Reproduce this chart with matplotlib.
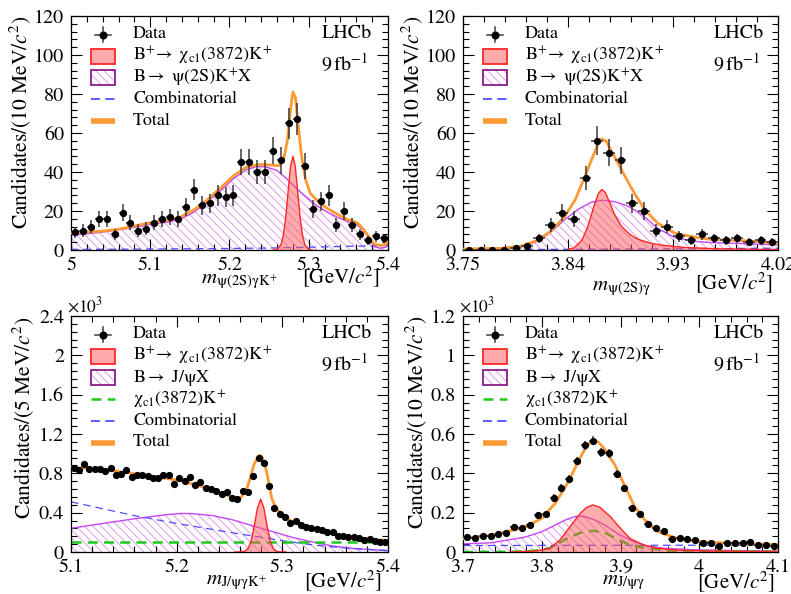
import numpy as np
import matplotlib.pyplot as plt
from matplotlib.patches import Rectangle
from matplotlib.ticker import FixedLocator, FuncFormatter

plt.rcParams.update({'font.family': 'STIXGeneral', 'mathtext.fontset': 'stix',
                     'hatch.linewidth': 0.7, 'axes.linewidth': 0.9})

# ---------------- data ----------------
# top left: m(psi(2S) gamma K+), 10 MeV bins 5.0 - 5.4
data1 = [9, 10, 12, 16, 16, 8, 19, 14, 10, 11, 14, 16, 17, 16, 22, 31, 23, 24, 28, 27,
         28, 45, 45, 40, 40, 51, 46, 65, 67, 43, 21, 25, 28, 13, 20, 13, 8, 5, 7, 6]
tot1_x = [5.000, 5.037, 5.058, 5.079, 5.100, 5.121, 5.138, 5.155, 5.171, 5.188, 5.205, 5.222,
          5.239, 5.251, 5.262, 5.268, 5.273, 5.277, 5.280, 5.283, 5.287, 5.291, 5.296, 5.302,
          5.315, 5.331, 5.348, 5.361, 5.369, 5.376, 5.382, 5.390, 5.397, 5.400]
tot1_y = [8.8, 9.6, 10.5, 12.2, 14.0, 15.2, 16.9, 20.6, 25.4, 31.6, 38.0, 42.7,
          43.9, 43.6, 43.2, 46.0, 56.0, 72.0, 81.0, 78.6, 63.0, 48.0, 36.0, 29.0,
          23.5, 19.5, 15.8, 14.0, 10.6, 6.8, 3.2, 2.3, 2.8, 5.5]
purp1_x = [5.000, 5.037, 5.079, 5.100, 5.121, 5.138, 5.155, 5.171, 5.188, 5.205, 5.222, 5.235,
           5.247, 5.260, 5.272, 5.285, 5.298, 5.310, 5.323, 5.335, 5.348, 5.360, 5.369, 5.376,
           5.382, 5.390, 5.397, 5.400]
purp1_y = [7.6, 9.0, 11.5, 13.2, 14.3, 15.8, 19.4, 24.4, 30.2, 36.6, 41.4, 42.9,
           42.5, 40.8, 36.6, 31.4, 26.8, 22.8, 19.5, 17.0, 14.8, 13.2, 10.2, 6.4,
           1.8, 0.9, 1.4, 3.4]
red1_x = [5.255, 5.260, 5.265, 5.268, 5.271, 5.274, 5.277, 5.280, 5.283, 5.286, 5.289,
          5.292, 5.295, 5.300, 5.305]
red1_y = [0.0, 0.3, 2.8, 7.8, 17.0, 30.0, 43.0, 48.0, 43.0, 30.0, 17.0, 7.8, 2.8, 0.3, 0.0]
comb1_x = [5.00, 5.10, 5.20, 5.25, 5.30, 5.35, 5.40]
comb1_y = [0.3, 0.5, 0.8, 1.0, 1.4, 1.9, 2.3]

# top right: m(psi(2S) gamma), 10 MeV bins 3.75 - 4.02
data2 = [0, 0, 0, 0, 1, 2, 6, 13, 19, 16, 37, 56, 50, 46, 24, 20, 10, 12, 7, 5,
         8, 6, 5, 6, 4, 5, 4]
tot2_x = [3.750, 3.783, 3.800, 3.814, 3.826, 3.837, 3.846, 3.854, 3.860, 3.866, 3.869, 3.873,
          3.877, 3.883, 3.889, 3.897, 3.906, 3.917, 3.932, 3.950, 3.960, 3.975, 3.990,
          4.004, 4.020]
tot2_y = [0.5, 0.9, 2.0, 5.0, 10.0, 17.0, 25.6, 36.8, 46.0, 54.7, 57.0, 55.6,
          51.0, 44.4, 37.6, 29.0, 20.5, 13.7, 8.5, 6.5, 5.6, 5.1, 4.8, 4.3, 3.4]
purp2_x = [3.750, 3.780, 3.790, 3.803, 3.814, 3.826, 3.837, 3.849, 3.860, 3.869, 3.880,
           3.891, 3.902, 3.917, 3.932, 3.950, 3.963, 3.990, 4.020]
purp2_y = [0.0, 0.2, 0.8, 2.0, 4.5, 9.5, 15.5, 21.0, 24.5, 25.5, 24.8,
           22.6, 18.8, 11.0, 6.3, 4.4, 3.8, 3.3, 2.6]
red2_x = [3.840, 3.845, 3.852, 3.857, 3.862, 3.866, 3.869, 3.872, 3.876, 3.880, 3.886,
          3.893, 3.900, 3.910, 3.920, 3.940, 3.970, 4.020]
red2_y = [0.3, 1.0, 5.0, 12.0, 22.0, 29.0, 31.0, 29.5, 24.0, 18.0, 12.0,
          8.0, 5.5, 3.6, 2.5, 1.3, 0.6, 0.2]
comb2_x = [3.75, 3.85, 3.95, 4.02]
comb2_y = [0.1, 0.4, 0.7, 0.9]

# bottom left: m(J/psi gamma K+), 5 MeV bins 5.1 - 5.4, in units of 10^3
data3 = [0.858, 0.834, 0.895, 0.840, 0.844, 0.844, 0.827, 0.858, 0.786, 0.797,
         0.834, 0.766, 0.786, 0.786, 0.776, 0.753, 0.753, 0.783, 0.783, 0.695,
         0.756, 0.722, 0.759, 0.678, 0.715, 0.654, 0.641, 0.624, 0.586, 0.614,
         0.549, 0.542, 0.624, 0.614, 0.773, 0.959, 0.908, 0.675, 0.444, 0.386,
         0.359, 0.292, 0.319, 0.275, 0.251, 0.241, 0.231, 0.220, 0.207, 0.200,
         0.159, 0.163, 0.149, 0.153, 0.139, 0.122, 0.129, 0.115, 0.105, 0.105]
tot3_x = [5.100, 5.127, 5.158, 5.190, 5.205, 5.221, 5.237, 5.250, 5.256, 5.261, 5.266,
          5.270, 5.273, 5.277, 5.279, 5.281, 5.284, 5.287, 5.290, 5.294, 5.300, 5.309,
          5.322, 5.338, 5.353, 5.369, 5.385, 5.400]
tot3_y = [0.861, 0.844, 0.800, 0.749, 0.722, 0.675, 0.624, 0.569, 0.546, 0.556, 0.630,
          0.766, 0.885, 0.969, 0.983, 0.963, 0.868, 0.715, 0.546, 0.444, 0.376, 0.308,
          0.258, 0.217, 0.173, 0.149, 0.129, 0.115]
purp3_x = [5.100, 5.127, 5.158, 5.190, 5.205, 5.215, 5.234, 5.253, 5.272, 5.291, 5.309,
           5.328, 5.347, 5.369, 5.400]
purp3_y = [0.241, 0.285, 0.335, 0.380, 0.392, 0.390, 0.370, 0.327, 0.266, 0.207, 0.150,
           0.102, 0.062, 0.034, 0.014]
red3_x = [5.2555, 5.2615, 5.2645, 5.2675, 5.2705, 5.2735, 5.2765, 5.2795, 5.2825, 5.2855,
          5.2885, 5.2915, 5.2945, 5.2975, 5.3035]
red3_y = [0.0, 0.002, 0.007, 0.034, 0.113, 0.27, 0.45, 0.536, 0.45, 0.27,
          0.113, 0.034, 0.007, 0.002, 0.0]
comb3_x = [5.10, 5.13, 5.16, 5.20, 5.25, 5.30, 5.33, 5.36, 5.40]
comb3_y = [0.51, 0.44, 0.37, 0.29, 0.20, 0.115, 0.07, 0.04, 0.015]
nonres3_x = [5.10, 5.40]
nonres3_y = [0.10, 0.10]

# bottom right: m(J/psi gamma), 10 MeV bins 3.7 - 4.1, in units of 10^3
data4 = [0.078, 0.069, 0.081, 0.083, 0.093, 0.095, 0.129, 0.120, 0.136, 0.190,
         0.193, 0.276, 0.327, 0.373, 0.464, 0.542, 0.566, 0.507, 0.502, 0.398,
         0.324, 0.222, 0.192, 0.142, 0.120, 0.108, 0.068, 0.069, 0.064, 0.061,
         0.047, 0.047, 0.031, 0.047, 0.047, 0.044, 0.053, 0.036, 0.036, 0.031]
tot4_x = [3.700, 3.736, 3.778, 3.800, 3.817, 3.834, 3.846, 3.857, 3.865, 3.872, 3.880,
          3.893, 3.906, 3.918, 3.931, 3.948, 3.969, 3.990, 4.011, 4.032, 4.053, 4.074, 4.100]
tot4_y = [0.068, 0.086, 0.125, 0.171, 0.247, 0.358, 0.459, 0.539, 0.569, 0.559, 0.522,
          0.442, 0.332, 0.230, 0.163, 0.103, 0.073, 0.058, 0.050, 0.046, 0.042, 0.040, 0.037]
purp4_x = [3.700, 3.736, 3.778, 3.800, 3.817, 3.830, 3.842, 3.848, 3.855, 3.867, 3.880,
           3.896, 3.912, 3.933, 3.955, 3.990, 4.032, 4.100]
purp4_y = [0.041, 0.047, 0.075, 0.103, 0.137, 0.163, 0.180, 0.183, 0.180, 0.163, 0.137,
           0.095, 0.061, 0.032, 0.019, 0.012, 0.008, 0.005]
red4_x = [3.760, 3.793, 3.810, 3.823, 3.836, 3.849, 3.857, 3.865, 3.874, 3.887, 3.900,
          3.912, 3.929, 3.946, 3.972, 4.010, 4.100]
red4_y = [0.0, 0.005, 0.019, 0.061, 0.129, 0.197, 0.227, 0.239, 0.227, 0.180, 0.120,
          0.069, 0.036, 0.019, 0.010, 0.005, 0.002]
nonres4_x = [3.700, 3.760, 3.790, 3.810, 3.830, 3.849, 3.865, 3.880, 3.896, 3.912, 3.933,
             3.963, 4.000, 4.100]
nonres4_y = [0.0, 0.001, 0.006, 0.019, 0.064, 0.098, 0.108, 0.098, 0.064, 0.036, 0.019,
             0.007, 0.004, 0.002]
comb4_x = [3.70, 3.90, 4.10]
comb4_y = [0.033, 0.034, 0.035]

# ---------------- style ----------------
C_ORANGE = '#ff9933'
C_RED = '#ff2626'
C_REDFILL = '#ff5a5a'
C_PURP = '#c845f2'
C_HATCH = '#dd9eee'
C_PURPBOX = '#8a1c8a'
C_BLUE = '#4d4dff'
C_GREEN = '#1ec81e'

fig = plt.figure(figsize=(7.91, 5.94), dpi=100)
ax1 = fig.add_axes([71/791, 1-250/594, 317/791, 234/594])
ax2 = fig.add_axes([463/791, 1-250/594, 315/791, 234/594])
ax3 = fig.add_axes([71/791, 1-552/594, 317/791, 236/594])
ax4 = fig.add_axes([463/791, 1-552/594, 315/791, 236/594])

fmt = FuncFormatter(lambda v, p: '%g' % round(v, 6))


def frame(ax, xlim, ylim, xmaj, xmin, ymaj, ymin):
    ax.set_xlim(xlim)
    ax.set_ylim(ylim)
    ax.xaxis.set_major_locator(FixedLocator(xmaj))
    ax.xaxis.set_minor_locator(FixedLocator(xmin))
    ax.yaxis.set_major_locator(FixedLocator(ymaj))
    ax.yaxis.set_minor_locator(FixedLocator(ymin))
    ax.xaxis.set_major_formatter(fmt)
    ax.yaxis.set_major_formatter(fmt)
    ax.tick_params(which='both', direction='in', top=True, right=True, labelsize=14.5,
                   width=0.8, pad=5)
    ax.tick_params(which='major', length=8)
    ax.tick_params(which='minor', length=4)


def draw_data(ax, lo, hi, y, scale=1.0):
    y = np.array(y)
    n = len(y)
    w = (hi - lo) / n
    x = lo + (np.arange(n) + 0.5) * w
    err = np.sqrt(y * scale) / scale
    ax.errorbar(x, y, xerr=w / 2, yerr=err, fmt='o', ms=4.2, color='black',
                ecolor='#3c3c3c', elinewidth=1.1, capsize=0, zorder=6)


def draw_model(ax, purp, red, tot, comb, nonres=None):
    ax.fill_between(purp[0], purp[1], 0, facecolor='none', edgecolor=C_HATCH,
                    hatch='\\\\\\\\', linewidth=0, zorder=1)
    ax.plot(purp[0], purp[1], color=C_PURP, lw=1.0, zorder=2)
    ax.plot(comb[0], comb[1], color=C_BLUE, lw=0.9, ls=(0, (6, 4)), zorder=2)
    if nonres is not None:
        ax.plot(nonres[0], nonres[1], color=C_GREEN, lw=1.8, ls=(0, (4, 2.5)), zorder=2)
    ax.fill_between(red[0], red[1], 0, facecolor=C_REDFILL, alpha=0.5, linewidth=0, zorder=3)
    ax.plot(red[0], red[1], color=C_RED, lw=1.0, zorder=3)
    ax.plot(tot[0], tot[1], color=C_ORANGE, lw=2.0, zorder=4)


def legend(ax, labels, kinds, W, H):
    for i, (lab, kind) in enumerate(zip(labels, kinds)):
        yc = 1 - (18.5 + 21.6 * i) / H
        x0, x1 = 20 / W, 44 / W
        xm = (x0 + x1) / 2
        kw = dict(transform=ax.transAxes, clip_on=False)
        if kind == 'data':
            ax.plot([xm - 8 / W, xm + 8 / W], [yc, yc], color='#3c3c3c', lw=1.1, **kw)
            ax.plot([xm, xm], [yc - 7.5 / H, yc + 7.5 / H], color='#3c3c3c', lw=1.1, **kw)
            ax.plot([xm], [yc], 'o', ms=4.8, color='black', **kw)
        elif kind == 'sig':
            ax.add_patch(Rectangle((x0, yc - 7.5 / H), x1 - x0, 15 / H, facecolor='#ffaaaa',
                                   edgecolor=C_RED, lw=1.3, **kw))
        elif kind == 'bkg':
            ax.add_patch(Rectangle((x0, yc - 7.5 / H), x1 - x0, 15 / H, facecolor='white',
                                   edgecolor=C_HATCH, hatch='\\\\\\\\', lw=0, **kw))
            ax.add_patch(Rectangle((x0, yc - 7.5 / H), x1 - x0, 15 / H, facecolor='none',
                                   edgecolor=C_PURPBOX, lw=1.3, **kw))
        elif kind == 'nonres':
            ax.plot([x0, x1], [yc, yc], color=C_GREEN, lw=1.8, ls=(0, (4, 2.5)), **kw)
        elif kind == 'comb':
            ax.plot([x0, x1], [yc, yc], color=C_BLUE, lw=1.3, ls=(0, (5, 3)), **kw)
        elif kind == 'tot':
            ax.plot([x0, x1], [yc, yc], color=C_ORANGE, lw=4, solid_capstyle='butt', **kw)
        ax.text(62 / W, yc, lab, transform=ax.transAxes, fontsize=13, va='center', ha='left')


def labels(ax, W, H, ylab, xsub, mpos, gpos, yl_x):
    ax.text(yl_x, 1.0, ylab, transform=ax.transAxes, rotation=90, ha='center', va='top',
            fontsize=15.5)
    ax.text(mpos[0], mpos[1], xsub, transform=ax.transAxes, ha='center', va='center',
            fontsize=15)
    ax.text(gpos[0], gpos[1], r'[GeV/$c^{2}$]', transform=ax.transAxes, ha='right',
            va='center', fontsize=15)
    ax.text(301 / W, 1 - 17 / H, 'LHCb', transform=ax.transAxes, ha='right', va='center',
            fontsize=14.5)
    ax.text(297 / W, 1 - 47 / H, r'9$\,$fb$^{-1}$', transform=ax.transAxes, ha='right',
            va='center', fontsize=14.5)


sig_lab = r'B$^{+}\!\rightarrow$ χ$_{\rm c1}$(3872)K$^{+}$'

# ---- panel 1 ----
frame(ax1, (5.0, 5.4), (0, 120), [5.0, 5.1, 5.2, 5.3, 5.4], np.arange(5.0, 5.401, 0.02),
      np.arange(0, 121, 20), np.arange(0, 121, 4))
draw_model(ax1, (purp1_x, purp1_y), (red1_x, red1_y), (tot1_x, tot1_y), (comb1_x, comb1_y))
draw_data(ax1, 5.0, 5.4, data1)
legend(ax1, ['Data', sig_lab, r'B$\rightarrow$ ψ(2S)K$^{+}$X', 'Combinatorial', 'Total'],
       ['data', 'sig', 'bkg', 'comb', 'tot'], 317, 234)
labels(ax1, 317, 234, r'Candidates/(10 MeV/$c^{2}$)', r'$m_{\mathrm{ψ(2S)γK^{+}}}$',
       (0.53, -0.132), (0.975, -0.112), -0.161)

# ---- panel 2 ----
frame(ax2, (3.75, 4.02), (0, 120), [3.75, 3.84, 3.93, 4.02], np.arange(3.75, 4.0201, 0.018),
      np.arange(0, 121, 20), np.arange(0, 121, 4))
draw_model(ax2, (purp2_x, purp2_y), (red2_x, red2_y), (tot2_x, tot2_y), (comb2_x, comb2_y))
draw_data(ax2, 3.75, 4.02, data2)
legend(ax2, ['Data', sig_lab, r'B$\rightarrow$ ψ(2S)K$^{+}$X', 'Combinatorial', 'Total'],
       ['data', 'sig', 'bkg', 'comb', 'tot'], 315, 234)
labels(ax2, 315, 234, r'Candidates/(10 MeV/$c^{2}$)', r'$m_{\mathrm{ψ(2S)γ}}$',
       (0.502, -0.162), (0.984, -0.137), -0.162)

# ---- panel 3 ----
frame(ax3, (5.1, 5.4), (0, 2.4), [5.1, 5.2, 5.3, 5.4], np.arange(5.1, 5.401, 0.02),
      np.arange(0, 2.41, 0.4), np.arange(0, 2.41, 0.08))
draw_model(ax3, (purp3_x, purp3_y), (red3_x, red3_y), (tot3_x, tot3_y), (comb3_x, comb3_y),
           (nonres3_x, nonres3_y))
draw_data(ax3, 5.1, 5.4, data3, scale=1000.0)
legend(ax3, ['Data', sig_lab, r'B$\rightarrow$ J/ψX', r'χ$_{\rm c1}$(3872)K$^{+}$',
             'Combinatorial', 'Total'],
       ['data', 'sig', 'bkg', 'nonres', 'comb', 'tot'], 317, 236)
labels(ax3, 317, 236, r'Candidates/(5 MeV/$c^{2}$)', r'$m_{\mathrm{J/ψγK^{+}}}$',
       (0.523, -0.127), (0.981, -0.122), -0.151)
ax3.text(-0.012, 1.0, r'$\times$10$^{3}$', transform=ax3.transAxes, ha='left', va='bottom',
         fontsize=12.5)

# ---- panel 4 ----
frame(ax4, (3.7, 4.1), (0, 1.2), [3.7, 3.8, 3.9, 4.0, 4.1], np.arange(3.7, 4.101, 0.02),
      np.arange(0, 1.21, 0.2), np.arange(0, 1.21, 0.04))
draw_model(ax4, (purp4_x, purp4_y), (red4_x, red4_y), (tot4_x, tot4_y), (comb4_x, comb4_y),
           (nonres4_x, nonres4_y))
draw_data(ax4, 3.7, 4.1, data4, scale=1000.0)
legend(ax4, ['Data', sig_lab, r'B$\rightarrow$ J/ψX', r'χ$_{\rm c1}$(3872)K$^{+}$',
             'Combinatorial', 'Total'],
       ['data', 'sig', 'bkg', 'nonres', 'comb', 'tot'], 315, 236)
labels(ax4, 315, 236, r'Candidates/(10 MeV/$c^{2}$)', r'$m_{\mathrm{J/ψγ}}$',
       (0.511, -0.127), (0.99, -0.124), -0.149)
ax4.text(-0.012, 1.0, r'$\times$10$^{3}$', transform=ax4.transAxes, ha='left', va='bottom',
         fontsize=12.5)

plt.savefig('out.png', dpi=100)
